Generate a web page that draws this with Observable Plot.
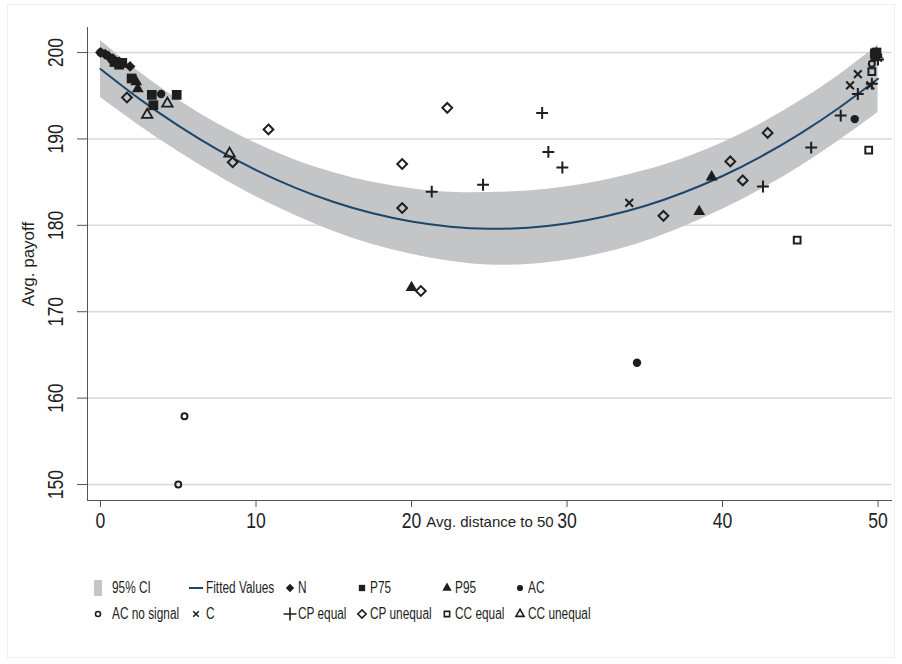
<!DOCTYPE html>
<html><head><meta charset="utf-8">
<script src="https://cdn.jsdelivr.net/npm/d3@7"></script>
<script src="https://cdn.jsdelivr.net/npm/@observablehq/plot@0.6"></script>
<style>
body{margin:0;background:#fff;font-family:"Liberation Sans",Arial,sans-serif;}
#wrap{position:relative;width:902px;height:664px;overflow:hidden;}
#border{position:absolute;left:7px;top:4px;width:886px;height:652px;border:1px solid #f0f0f0;}
#chart{position:absolute;left:0;top:0;}
.lg{position:absolute;height:18px;line-height:18px;font-size:16px;color:#1e1e1e;white-space:nowrap;}
.lg span{display:inline-block;transform:scaleX(0.74);transform-origin:left center;}
.mk{position:absolute;}
</style></head><body>
<div id="wrap"><div id="border"></div><div id="chart"></div></div>
<script>
// ---- data ----
const xTicks = [0, 10, 20, 30, 40, 50];
const yTicks = [150, 160, 170, 180, 190, 200];
const xTitle = "Avg. distance to 50";
const yTitle = "Avg. payoff";

// fitted quadratic and 95% CI, read at regular x positions
const fitX  = [0, 2.5, 5, 7.5, 10, 12.5, 15, 17.5, 20, 22.5, 25, 27.5, 30, 32.5, 35, 37.5, 40, 42.5, 45, 47.5, 50];
const fitY  = [198.1, 194.64, 191.54, 188.79, 186.4, 184.37, 182.7, 181.39, 180.44, 179.84, 179.6, 179.73, 180.21, 181.05, 182.24, 183.8, 185.71, 187.99, 190.62, 193.61, 196.96];
const ciLo  = [194.8, 191.54, 188.54, 185.79, 183.3, 181.17, 179.3, 177.79, 176.64, 175.84, 175.4, 175.48, 175.96, 176.85, 178.14, 179.85, 181.86, 184.19, 186.82, 189.81, 193.06];
const ciHi  = [201.4, 197.74, 194.54, 191.79, 189.5, 187.57, 186.1, 184.99, 184.24, 183.84, 183.8, 183.98, 184.46, 185.25, 186.34, 187.75, 189.56, 191.79, 194.42, 197.41, 200.86];

const ptsN    = [[0.0,200.0],[0.3,199.8],[0.5,199.6],[0.8,199.3],[1.2,198.9],[1.9,198.4]];
const ptsP75  = [[0.9,198.9],[1.2,198.6],[1.4,198.8],[2.0,197.0],[3.3,195.1],[3.4,193.9],[4.9,195.1],[49.8,199.9],[49.9,200.0]];
const ptsP95  = [[2.3,196.6],[2.4,195.8],[20.0,172.8],[38.5,181.6],[39.3,185.6]];
const ptsAC   = [[0.0,200.0],[0.7,199.2],[3.9,195.2],[34.5,164.1],[48.5,192.3],[49.8,199.6]];
const ptsACns = [[0.4,199.7],[5.0,150.0],[5.4,157.9],[49.6,198.7]];
const ptsC    = [[34.0,182.6],[48.2,196.2],[48.7,197.5],[49.5,196.2],[50.0,199.4]];
const ptsCPeq = [[21.3,183.9],[24.6,184.7],[28.4,193.0],[28.8,188.5],[29.7,186.7],[42.6,184.5],[45.7,189.0],[47.6,192.7],[48.7,195.2],[49.6,196.4],[50.0,199.2]];
const ptsCPun = [[1.7,194.8],[8.5,187.3],[10.8,191.1],[19.4,187.1],[19.4,182.0],[20.6,172.4],[22.3,193.6],[36.2,181.1],[40.5,187.4],[41.3,185.2],[42.9,190.7]];
const ptsCCeq = [[44.8,178.3],[49.4,188.7],[49.6,197.8],[49.8,199.5]];
const ptsCCun = [[3.0,192.8],[4.3,194.1],[8.3,188.3],[49.9,199.8]];

const legendLabels = ["95% CI","Fitted Values","N","P75","P95","AC","AC no signal","C","CP equal","CP unequal","CC equal","CC unequal"];

// ---- styles ----
const INK = "#1e1e1e";
const BAND = "#c4c5c7";
const LINE = "#1a476f";
const series = [
  {pts: ptsCCun, symbol: "triangle2", r: 5.0, fill: "none", stroke: INK, sw: 1.8},
  {pts: ptsCCeq, symbol: "square2",   r: 4.3, fill: "none", stroke: INK, sw: 2},
  {pts: ptsCPun, symbol: "diamond2",  r: 4.4, fill: "none", stroke: INK, sw: 2},
  {pts: ptsCPeq, symbol: "plus",      r: 3.9, fill: "none", stroke: INK, sw: 2},
  {pts: ptsC,    symbol: "times",     r: 3.6, fill: "none", stroke: INK, sw: 2},
  {pts: ptsACns, symbol: "circle",    r: 3.0, fill: "none", stroke: INK, sw: 2},
  {pts: ptsAC,   symbol: "circle",    r: 4.2, fill: INK, stroke: "none", sw: 0},
  {pts: ptsP95,  symbol: "triangle",  r: 4.4, fill: INK, stroke: "none", sw: 0},
  {pts: ptsP75,  symbol: "square",    r: 5.5, fill: INK, stroke: "none", sw: 0},
  {pts: ptsN,    symbol: "diamond2",  r: 4.9, fill: INK, stroke: "none", sw: 0}
];

const fit = fitX.map((x, i) => ({x, fit: fitY[i], lo: ciLo[i], hi: ciHi[i]}));
const xDomain = [-0.836, 50.93];
const yDomain = [148.15, 202.9];

const marks = [
  Plot.ruleY(yTicks, {stroke: "#d9d9d9", strokeWidth: 1.5}),
  Plot.areaY(fit, {x: "x", y1: "lo", y2: "hi", fill: BAND, curve: "natural"}),
  Plot.lineY(fit, {x: "x", y: "fit", stroke: LINE, strokeWidth: 2, curve: "natural"}),
];
for (const s of series) {
  marks.push(Plot.dot(s.pts, {x: d => d[0], y: d => d[1], symbol: s.symbol, r: s.r,
    fill: s.fill, stroke: s.stroke, strokeWidth: s.sw}));
}
marks.push(
  Plot.ruleX([xDomain[0]], {stroke: "#555", strokeWidth: 1}),
  Plot.ruleY([yDomain[0]], {stroke: "#555", strokeWidth: 1}),
  Plot.axisY({ticks: yTicks, tickSize: 10, tickFormat: () => "", label: null, stroke: "#555"}),
  Plot.axisX({ticks: xTicks, tickSize: 7, tickFormat: () => "", label: null, stroke: "#555"}),
  Plot.text(yTicks, {y: d => d, text: d => String(d), frameAnchor: "left", dx: -32, rotate: -90,
    textAnchor: "middle", lineAnchor: "middle", fontSize: 22, fill: INK, className: "narrow"}),
  Plot.text(xTicks, {x: d => d, text: d => String(d), frameAnchor: "bottom", dy: 20,
    lineAnchor: "middle", fontSize: 22, fill: INK, className: "narrow"}),
  Plot.text([yTitle], {frameAnchor: "left", dx: -59, rotate: -90, textAnchor: "middle",
    lineAnchor: "middle", fontSize: 17, fill: INK}),
  Plot.text([xTitle], {frameAnchor: "bottom", dy: 22, lineAnchor: "middle", fontSize: 15, fill: INK})
);

const chart = Plot.plot({
  width: 902, height: 540,
  marginLeft: 87, marginRight: 10, marginTop: 27, marginBottom: 40,
  x: {domain: xDomain},
  y: {domain: yDomain},
  style: {fontFamily: "'Liberation Sans', Arial, sans-serif", background: "transparent"},
  marks
});
document.getElementById("chart").appendChild(chart);
// narrow the tick labels along their baseline, like the reference's condensed face
d3.select(chart).selectAll("g.narrow text").attr("transform", function() {
  return (this.getAttribute("transform") || "") + " scale(0.8,1)";
});

// ---- legend ----
const wrap = document.getElementById("wrap");
const colMk = [98, 196, 290, 362, 447, 520];
const colTx = [112, 206, 298, 370, 455, 528];
const rowY = [588, 614];
const legendMarks = [
  {type: "box"}, {type: "line"},
  {symbol: d3.symbolDiamond2, size: 44, fill: INK},
  {symbol: d3.symbolSquare, size: 40, fill: INK},
  {symbol: d3.symbolTriangle, size: 38, fill: INK},
  {symbol: d3.symbolCircle, size: 30, fill: INK},
  {symbol: d3.symbolCircle, size: 20, stroke: INK},
  {symbol: d3.symbolTimes, size: 22, stroke: INK},
  {symbol: d3.symbolPlus, size: 56, stroke: INK},
  {symbol: d3.symbolDiamond2, size: 44, stroke: INK},
  {symbol: d3.symbolSquare2, size: 36, stroke: INK},
  {symbol: d3.symbolTriangle2, size: 48, stroke: INK}
];
legendLabels.forEach((lab, i) => {
  const row = Math.floor(i / 6), col = i % 6;
  const cy = rowY[row];
  const m = legendMarks[i];
  const svg = d3.create("svg").attr("class", "mk");
  if (m.type === "box") {
    svg.attr("width", 9).attr("height", 16).style("left", "94px").style("top", (cy - 8) + "px");
    svg.append("rect").attr("width", 8).attr("height", 16).attr("fill", BAND);
  } else if (m.type === "line") {
    svg.attr("width", 16).attr("height", 4).style("left", "189px").style("top", (cy - 2) + "px");
    svg.append("line").attr("x1", 0).attr("x2", 14).attr("y1", 2).attr("y2", 2)
      .attr("stroke", LINE).attr("stroke-width", 2);
  } else {
    svg.attr("width", 14).attr("height", 14).style("left", (colMk[col] - 7) + "px").style("top", (cy - 7) + "px");
    svg.append("path").attr("transform", "translate(7,7)")
      .attr("d", d3.symbol(m.symbol, m.size)())
      .attr("fill", m.fill || "none").attr("stroke", m.stroke || "none").attr("stroke-width", m.stroke ? 1.6 : 0);
  }
  wrap.appendChild(svg.node());
  const div = document.createElement("div");
  div.className = "lg";
  div.style.left = colTx[col] + "px";
  div.style.top = (cy - 9) + "px";
  div.innerHTML = "<span></span>";
  div.firstChild.textContent = lab;
  wrap.appendChild(div);
});
</script>
</body></html>
